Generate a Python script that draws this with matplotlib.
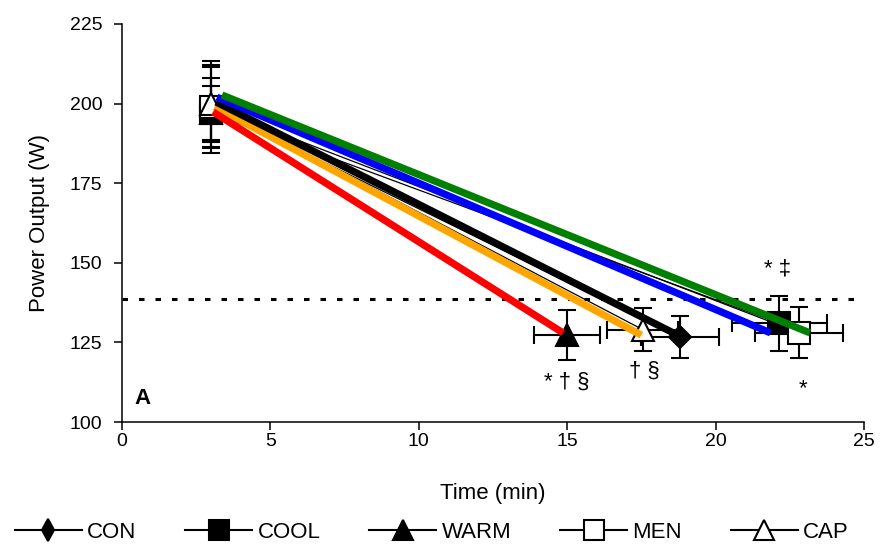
import matplotlib.pyplot as plt
from matplotlib.lines import Line2D

plt.rcParams['font.family'] = ['Liberation Sans', 'DejaVu Sans']

conditions = ["CON", "COOL", "WARM", "MEN", "CAP"]
markers = ["D", "s", "^", "s", "^"]
legend_markers = ["d", "s", "^", "s", "^"]
facecolors = ["black", "black", "black", "white", "white"]

start_time = [3.0, 3.0, 3.0, 3.0, 3.0]
start_power = [199, 197, 197, 199, 200]
start_sd = [12.6, 11.0, 8.5, 14.5, 12.0]

end_time = [18.8, 22.15, 15.0, 22.8, 17.55]
end_time_sd = [1.3, 1.6, 1.12, 1.48, 1.2]
end_power = [126.7, 131.0, 127.4, 128.1, 129.0]
end_power_sd = [6.6, 8.6, 7.8, 8.0, 6.8]

# thick coloured trend lines (start -> end)
trend_colors = ["black", "blue", "red", "green", "orange"]
trend_x0 = [3.17, 3.2, 3.07, 3.37, 3.12]
trend_y0 = [200.5, 202.0, 197.4, 202.7, 199.0]
trend_x1 = [18.85, 21.85, 14.86, 23.18, 17.5]
trend_y1 = [126.7, 128.0, 128.0, 128.0, 127.3]

threshold = 138.6

fig = plt.figure(figsize=(8.87, 5.55), dpi=100)
ax = fig.add_axes([0.1375, 0.2396, 0.8365, 0.7172])

msizes = {"D": 11.5, "s": 16, "^": 16}
for i in range(len(conditions)):
    ax.plot([start_time[i], end_time[i]], [start_power[i], end_power[i]],
            color="black", lw=0.9, zorder=2)
    ax.errorbar([start_time[i]], [start_power[i]], yerr=[start_sd[i]],
                fmt="none", ecolor="black", elinewidth=1.5, capsize=6.5,
                capthick=1.5, zorder=2)
    ax.errorbar([end_time[i]], [end_power[i]], xerr=[end_time_sd[i]],
                yerr=[end_power_sd[i]], fmt="none", ecolor="black",
                elinewidth=1.5, capsize=6.5, capthick=1.5, zorder=2)
    ax.plot([start_time[i], end_time[i]], [start_power[i], end_power[i]],
            ls="none", marker=markers[i], ms=msizes[markers[i]],
            mfc=facecolors[i], mec="black", mew=1.5, zorder=3)

order = [4, 0, 2, 1, 3]
for i in order:
    ax.plot([trend_x0[i], trend_x1[i]], [trend_y0[i], trend_y1[i]],
            color=trend_colors[i], lw=5.2, solid_capstyle="butt", zorder=4)

ax.axhline(threshold, color="black", lw=2.2, ls=(0, (1.8, 3.6)), zorder=1)

ax.text(15.0, 112.5, "* † §", ha="center", va="center", fontsize=16)
ax.text(17.6, 116, "† §", ha="center", va="center", fontsize=16)
ax.text(22.1, 148, "* ‡", ha="center", va="center", fontsize=16)
ax.text(22.95, 110.5, "*", ha="center", va="center", fontsize=16)
ax.text(0.42, 107.5, "A", ha="left", va="center", fontsize=16, fontweight="bold")

ax.set_xlim(0, 25)
ax.set_ylim(100, 225)
ax.set_xticks([0, 5, 10, 15, 20, 25])
ax.set_yticks([100, 125, 150, 175, 200, 225])
ax.spines["top"].set_visible(False)
ax.spines["right"].set_visible(False)
ax.spines["left"].set_linewidth(1.1)
ax.spines["bottom"].set_linewidth(1.1)
ax.tick_params(direction="out", length=6, width=1.1, labelsize=14)
ax.tick_params(axis="y", pad=8)
ax.tick_params(axis="x", pad=2)
ax.set_xlabel("Time (min)", fontsize=16, labelpad=24)
ax.set_ylabel("Power Output (W)", fontsize=16, labelpad=14)

handles = [Line2D([0], [0], color="black", lw=1.5, marker=legend_markers[i],
                  ms=11 if legend_markers[i] == "d" else 15, mfc=facecolors[i],
                  mec="black", mew=1.5) for i in range(len(conditions))]
fig.legend(handles, conditions, loc="center left", ncol=5, frameon=False,
           fontsize=16, handlelength=3.0, columnspacing=2.2, handletextpad=0.25,
           borderpad=0, borderaxespad=0, bbox_to_anchor=(15 / 887, 23 / 555))

fig.savefig("out.png", dpi=100)
